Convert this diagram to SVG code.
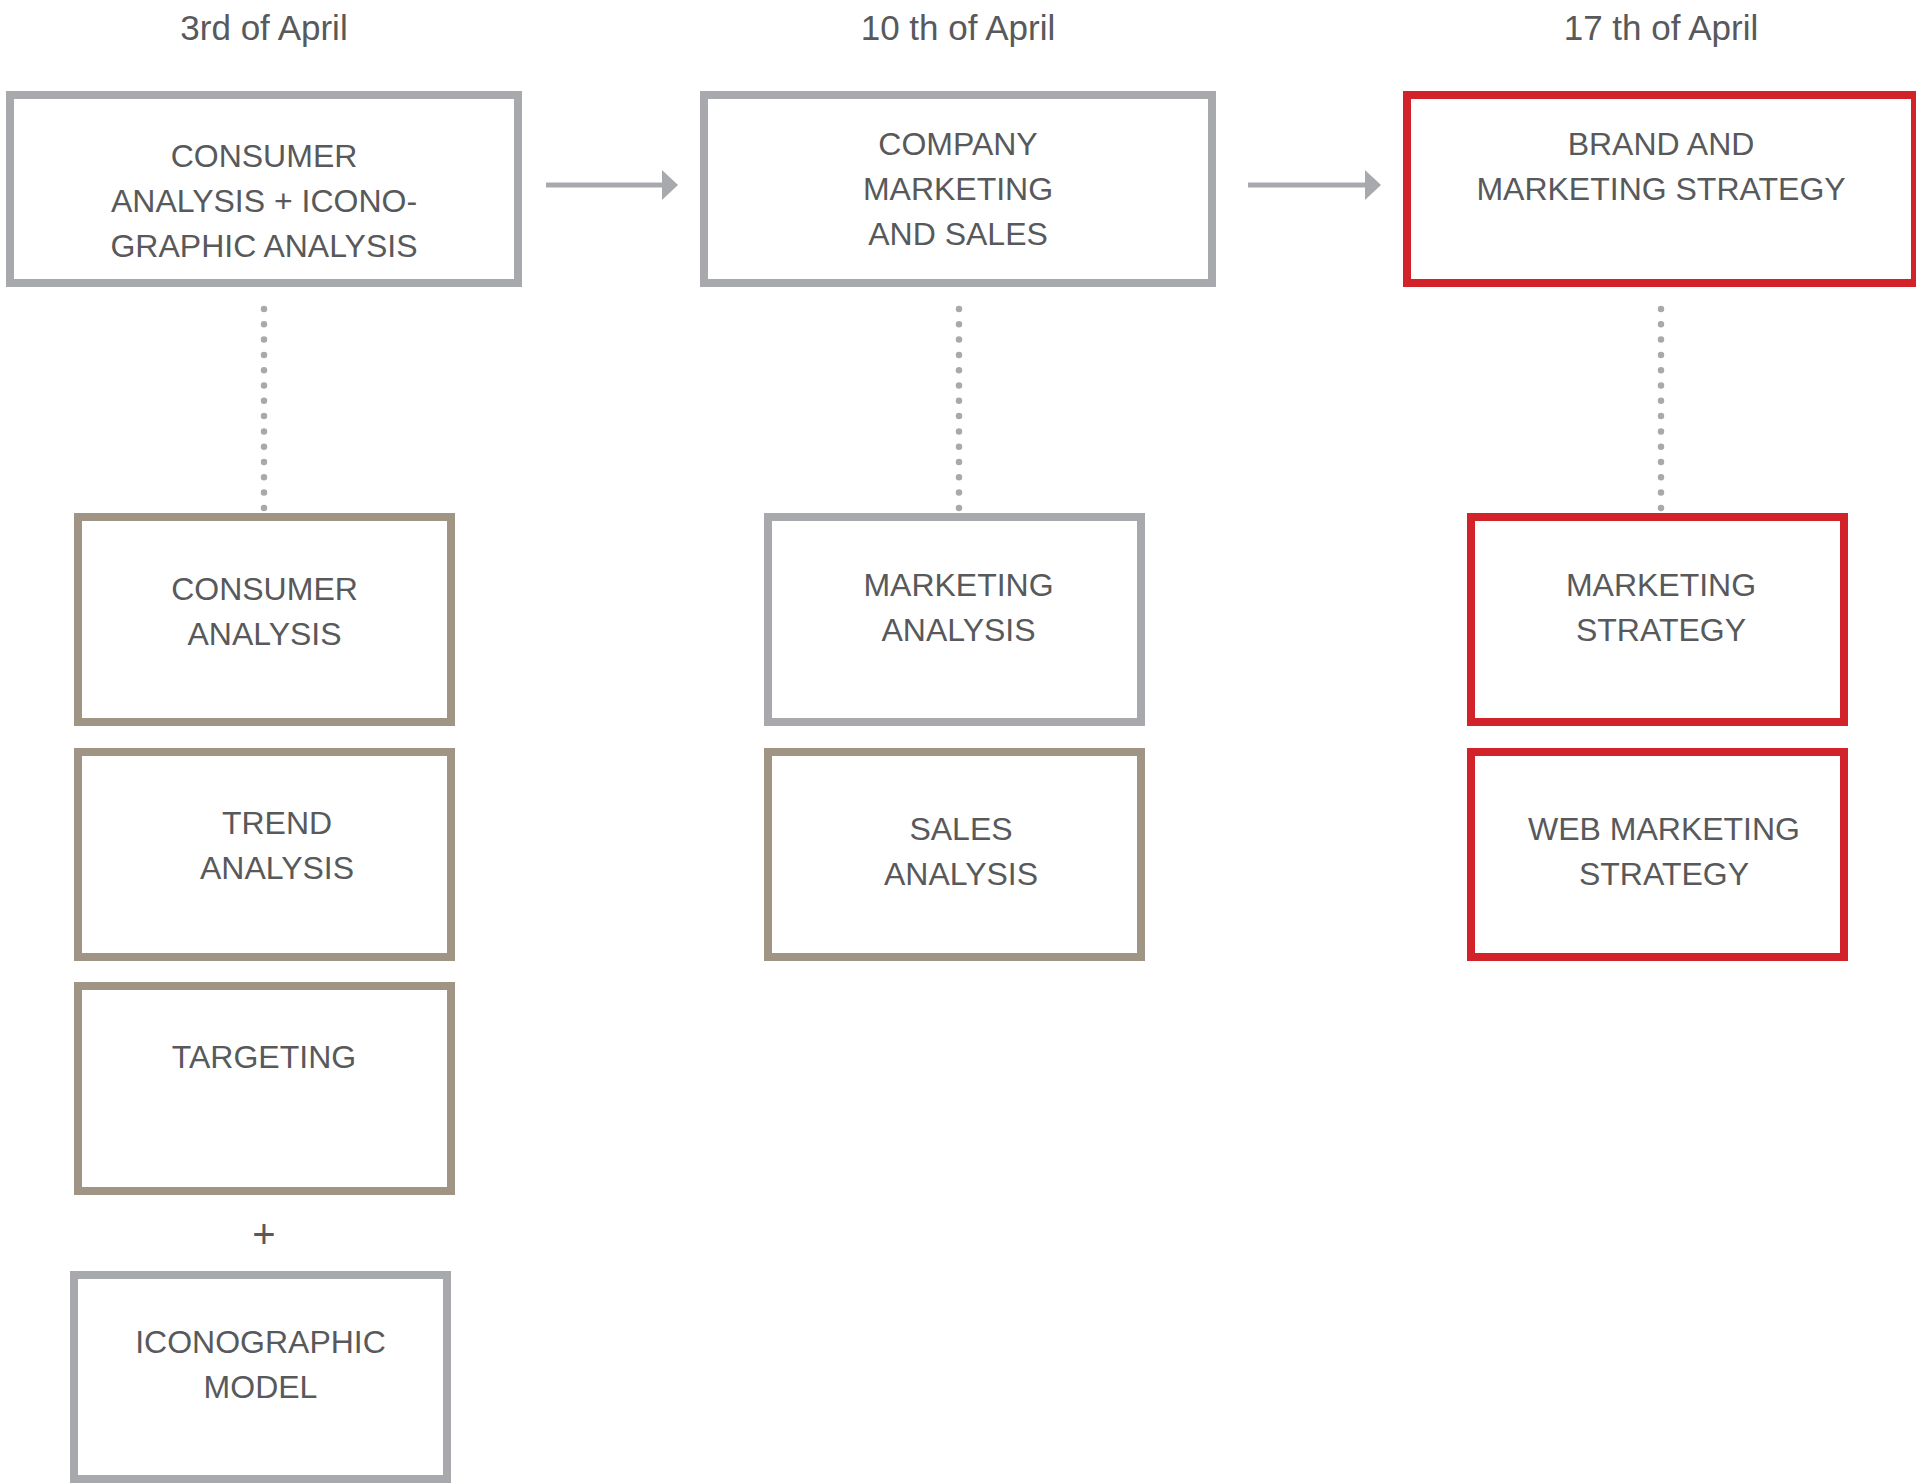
<svg xmlns="http://www.w3.org/2000/svg" width="1916" height="1483" viewBox="0 0 1916 1483">
<style>
  text { font-family: "Liberation Sans", Arial, sans-serif; fill: #58595B; text-anchor: middle; }
  .date { font-size: 35px; }
  .lbl { font-size: 32px; }
  .box { fill: #FFFFFF; stroke-width: 8; }
  .grey { stroke: #A7A9AC; }
  .tan { stroke: #A09585; }
  .red { stroke: #D2232A; }
  .arrow { stroke: #A7A9AC; stroke-width: 5; fill: none; }
  .dots { stroke: #A7A9AC; stroke-width: 6.5; stroke-linecap: round; stroke-dasharray: 0 15.3; fill: none; }
</style>
<defs>
  <marker id="head" markerUnits="userSpaceOnUse" markerWidth="16" markerHeight="30" refX="6" refY="15" orient="auto">
    <path d="M0,0 L16,15 L0,30 Z" fill="#A7A9AC"/>
  </marker>
</defs>
<rect width="1916" height="1483" fill="#FFFFFF"/>

<g id="dates">
  <text class="date" x="264" y="40">3rd of April</text>
  <text class="date" x="958" y="40">10 th of April</text>
  <text class="date" x="1661" y="40">17 th of April</text>
</g>

<g id="connectors">
  <line class="arrow" x1="546" y1="185" x2="668" y2="185" marker-end="url(#head)"/>
  <line class="arrow" x1="1248" y1="185" x2="1371" y2="185" marker-end="url(#head)"/>
  <line class="dots" x1="264" y1="309" x2="264" y2="509"/>
  <line class="dots" x1="959" y1="309" x2="959" y2="509"/>
  <line class="dots" x1="1661" y1="309" x2="1661" y2="509"/>
</g>

<g id="consumer-iconographic-analysis">
  <rect class="box grey" x="10" y="95" width="508" height="188"/>
  <text class="lbl" x="264" y="167">CONSUMER</text>
  <text class="lbl" x="264" y="212">ANALYSIS + ICONO-</text>
  <text class="lbl" x="264" y="257">GRAPHIC ANALYSIS</text>
</g>

<g id="company-marketing-sales">
  <rect class="box grey" x="704" y="95" width="508" height="188"/>
  <text class="lbl" x="958" y="155">COMPANY</text>
  <text class="lbl" x="958" y="200">MARKETING</text>
  <text class="lbl" x="958" y="245">AND SALES</text>
</g>

<g id="brand-marketing-strategy">
  <rect class="box red" x="1407" y="95" width="508" height="188"/>
  <text class="lbl" x="1661" y="155">BRAND AND</text>
  <text class="lbl" x="1661" y="200">MARKETING STRATEGY</text>
</g>

<g id="consumer-analysis">
  <rect class="box tan" x="78" y="517" width="373" height="205"/>
  <text class="lbl" x="264.5" y="600">CONSUMER</text>
  <text class="lbl" x="264.5" y="645">ANALYSIS</text>
</g>

<g id="trend-analysis">
  <rect class="box tan" x="78" y="752" width="373" height="205"/>
  <text class="lbl" x="277" y="834">TREND</text>
  <text class="lbl" x="277" y="879">ANALYSIS</text>
</g>

<g id="targeting">
  <rect class="box tan" x="78" y="986" width="373" height="205"/>
  <text class="lbl" x="264" y="1068">TARGETING</text>
</g>

<g id="plus">
  <text x="264" y="1248" style="font-size:40px">+</text>
</g>

<g id="iconographic-model">
  <rect class="box grey" x="74" y="1275" width="373" height="204"/>
  <text class="lbl" x="260.5" y="1353">ICONOGRAPHIC</text>
  <text class="lbl" x="260.5" y="1398">MODEL</text>
</g>

<g id="marketing-analysis">
  <rect class="box grey" x="768" y="517" width="373" height="205"/>
  <text class="lbl" x="958.5" y="596">MARKETING</text>
  <text class="lbl" x="958.5" y="641">ANALYSIS</text>
</g>

<g id="sales-analysis">
  <rect class="box tan" x="768" y="752" width="373" height="205"/>
  <text class="lbl" x="961" y="840">SALES</text>
  <text class="lbl" x="961" y="885">ANALYSIS</text>
</g>

<g id="marketing-strategy">
  <rect class="box red" x="1471" y="517" width="373" height="205"/>
  <text class="lbl" x="1661" y="596">MARKETING</text>
  <text class="lbl" x="1661" y="641">STRATEGY</text>
</g>

<g id="web-marketing-strategy">
  <rect class="box red" x="1471" y="752" width="373" height="205"/>
  <text class="lbl" x="1664" y="840">WEB MARKETING</text>
  <text class="lbl" x="1664" y="885">STRATEGY</text>
</g>
</svg>
